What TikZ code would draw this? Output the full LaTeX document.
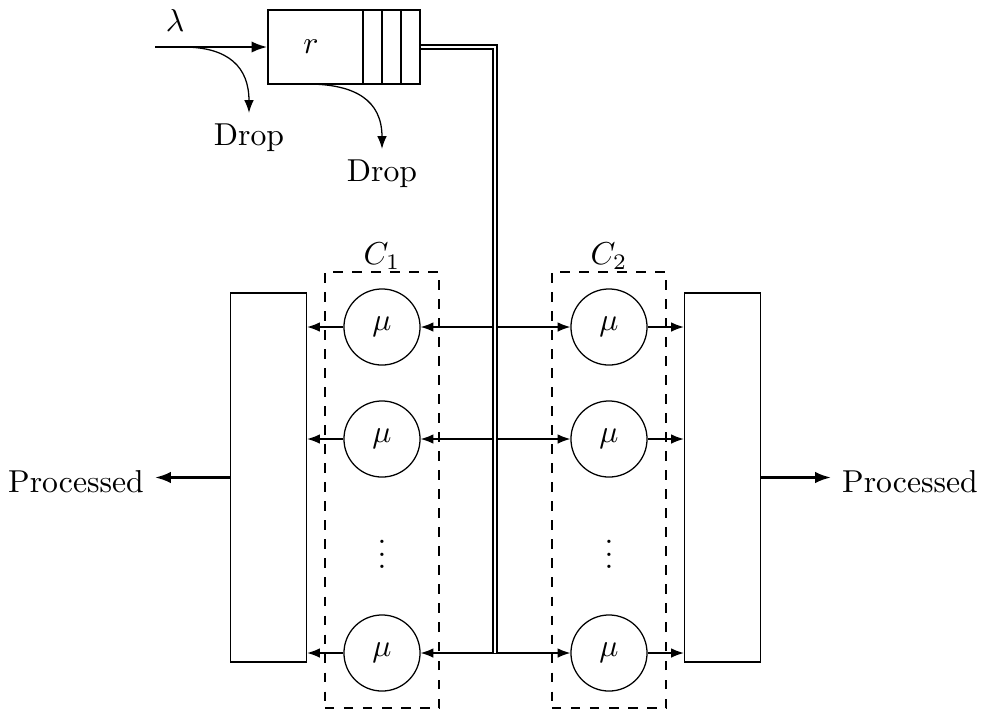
\documentclass[tikz,border=0pt]{standalone}
\usetikzlibrary{arrows.meta}
\begin{document}
\begin{tikzpicture}[x=0.3155pt,y=-0.3155pt,
  arr/.style={-{Latex[length=4pt,width=3pt]}},
  barr/.style={{Latex[length=4pt,width=3pt]}-{Latex[length=4pt,width=3pt]}},
  thickarr/.style={thick,-{Latex[length=5pt,width=3.6pt]}},
  server/.style={circle,draw,minimum size=24pt,inner sep=0pt},
  bigbox/.style={draw,minimum width=24pt,minimum height=116.4pt,inner sep=0pt},
  cluster/.style={draw,dashed,minimum width=36pt,minimum height=137.6pt,inner sep=0pt}]
\useasboundingbox (0,0) rectangle (984,709);
% queue
\node[draw,minimum width=47.96pt,minimum height=23.35pt,inner sep=0pt] (q) at (344,47) {};
\node (r) at (311,47) {$r$};
\draw (363,10) -- (363,84);
\draw (382,10) -- (382,84);
\draw (401,10) -- (401,84);
\coordinate (in) at (155,47);
\draw[thickarr] (in) -- (q.west);
\node (lam) at (175,20) {$\lambda$};
% drops
\coordinate (s1) at (183,47);
\coordinate (s2) at (307,84);
\node (d1) at (249,138) {Drop};
\node (d2) at (382,174) {Drop};
\draw[arr] (s1) to[out=0,in=90,looseness=1.25] (d1.north);
\draw[arr] (s2) to[out=0,in=90,looseness=1.25] (d2.north);
% clusters
\node[cluster] (c1) at (382,490) {};
\node[cluster] (c2) at (609,490) {};
\node (l1) at (382,256) {$C_1$};
\node (l2) at (609,256) {$C_2$};
% servers
\node[server] (a1) at (382,327) {$\mu$};
\node[server] (a2) at (382,439) {$\mu$};
\node[server] (a3) at (382,653) {$\mu$};
\node[server] (b1) at (609,327) {$\mu$};
\node[server] (b2) at (609,439) {$\mu$};
\node[server] (b3) at (609,653) {$\mu$};
\node[inner sep=0pt] (v1) at (382,545) {$\vdots$};
\node[inner sep=0pt] (v2) at (609,545) {$\vdots$};
% big boxes
\node[bigbox] (L) at (268.5,477.5) {};
\node[bigbox] (R) at (722.5,477.5) {};
% connections
\foreach \i in {1,2,3}{
  \draw[arr] (a\i.west) -- (a\i.west -| L.east);
  \draw[barr] (a\i.east) -- (b\i.west);
  \draw[arr] (b\i.east) -- (b\i.east -| R.west);
}
\coordinate (j) at (495,653);
\draw[double,line width=0.55pt,double distance=0.55pt] (q.east) -| (j);
% processed
\node (pl) at (76,482) {Processed};
\node (pr) at (910,482) {Processed};
\draw[thickarr] (L.west) -- (L.west -| pl.east);
\draw[thickarr] (R.east) -- (R.east -| pr.west);
\end{tikzpicture}
\end{document}
